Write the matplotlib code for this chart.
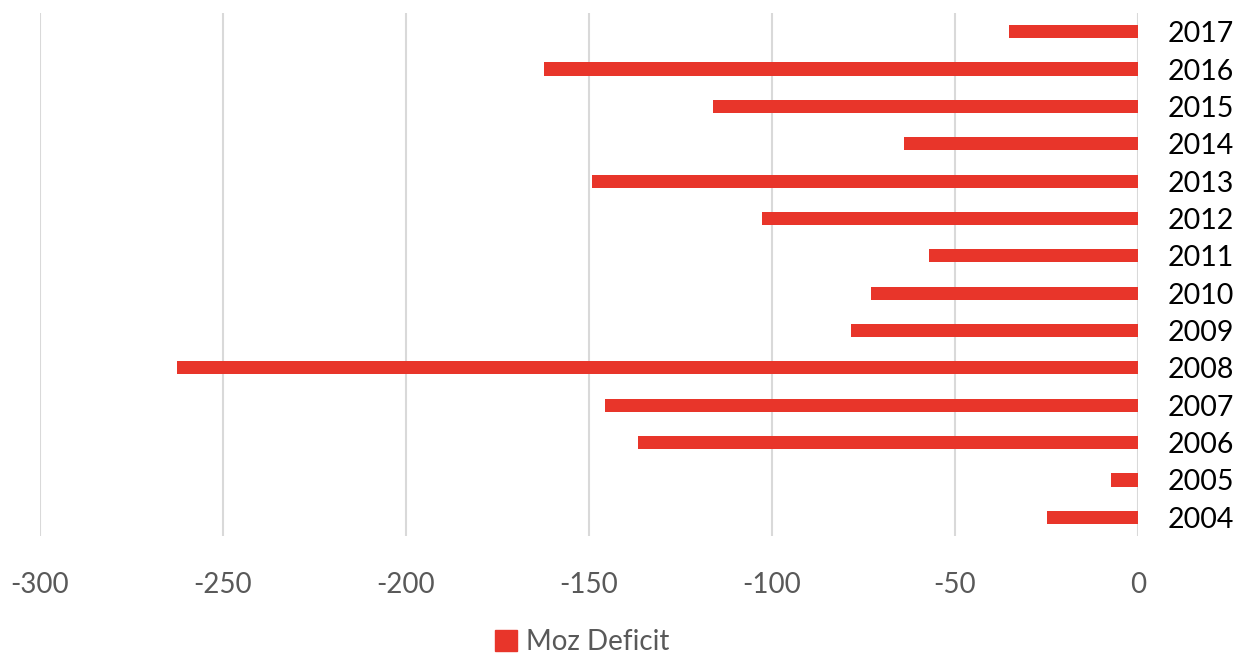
import matplotlib.pyplot as plt
from matplotlib.patches import Patch

years = ['2017', '2016', '2015', '2014', '2013', '2012', '2011',
         '2010', '2009', '2008', '2007', '2006', '2005', '2004']
deficit = [-35.2, -162.3, -116.2, -63.8, -149.3, -102.8, -57.2,
           -73.0, -78.5, -262.7, -145.5, -136.7, -7.4, -24.8]
ticks = [-300, -250, -200, -150, -100, -50, 0]

bar_color = '#E8352A'
font = 'Lato'

fig = plt.figure(figsize=(12.4, 6.56), dpi=100)
ax = fig.add_axes([40 / 1240, 1 - 536 / 656, 1098 / 1240, 523 / 656])

pos = list(range(len(years)))[::-1]
ax.barh(pos, deficit, height=0.35, color=bar_color, zorder=3)

ax.set_xlim(-300, 0)
ax.set_ylim(-0.5, len(years) - 0.5)
ax.set_xticks(ticks)
ax.set_xticklabels([str(t) for t in ticks], fontsize=20, color='#595959', family=font)
ax.set_yticks(pos)
ax.set_yticklabels(years, fontsize=20.5, color='black', family=font)
ax.yaxis.tick_right()
ax.tick_params(axis='y', length=0, pad=21)
ax.tick_params(axis='x', length=0, pad=26)
ax.grid(axis='x', color='#D9D9D9', linewidth=1.5, zorder=0)
for s in ax.spines.values():
    s.set_visible(False)

fig.legend(handles=[Patch(color=bar_color, label='Moz Deficit')],
           loc='center', bbox_to_anchor=(582 / 1240, 1 - 642 / 656),
           frameon=False, handlelength=0.8, handleheight=0.8, handletextpad=0.3,
           prop={'family': font, 'size': 20}, labelcolor='#595959')

fig.savefig('out.png', dpi=100)
